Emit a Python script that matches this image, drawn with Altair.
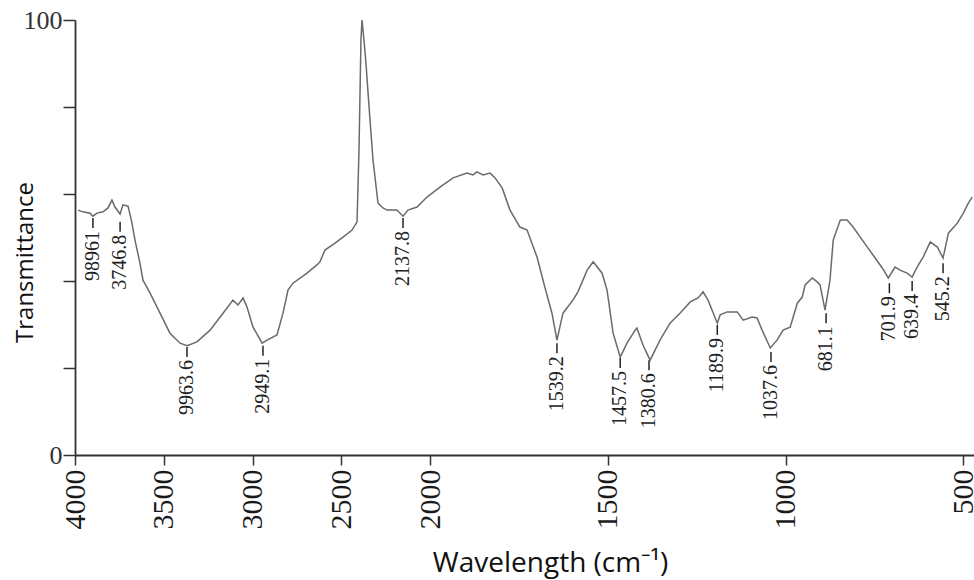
import altair as alt
import pandas as pd

# Spectrum trace (wavenumber, transmittance)
wavenumber = [3983, 3955, 3915, 3899, 3876, 3842, 3814, 3792, 3775, 3746, 3730, 3701,
              3679, 3662, 3634, 3617, 3577, 3521, 3465, 3408, 3369, 3313, 3239, 3166,
              3110, 3082, 3053, 3031, 2997, 2946, 2918, 2862, 2828, 2800, 2772, 2693,
              2637, 2620, 2592, 2535, 2490, 2439, 2411, 2400, 2389, 2383, 2372, 2361,
              2338, 2321, 2310, 2293, 2265, 2242, 2186, 2152, 2124, 2073, 2017, 1972,
              1935, 1896, 1879, 1868, 1851, 1831, 1817, 1797, 1775, 1747, 1727, 1699,
              1677, 1657, 1643, 1626, 1598, 1584, 1558, 1541, 1516, 1502, 1485, 1465,
              1446, 1423, 1418, 1401, 1381, 1353, 1325, 1297, 1268, 1246, 1232, 1218,
              1192, 1184, 1164, 1136, 1119, 1094, 1080, 1066, 1043, 1024, 1007, 987,
              967, 953, 945, 925, 911, 903, 889, 875, 866, 846, 827, 810, 790, 770,
              748, 728, 711, 692, 678, 658, 644, 630, 613, 593, 573, 557, 542, 517,
              500, 486, 475]
transmittance = [56.3, 55.9, 55.6, 54.9, 55.6, 55.9, 56.8, 58.6, 57.0, 55.4, 57.5, 57.2,
                 53.3, 49.4, 44.1, 40.2, 37.2, 32.6, 28.0, 25.7, 25.1, 26.0, 28.7, 32.6,
                 35.6, 34.5, 36.1, 34.0, 29.4, 25.7, 26.4, 27.6, 32.6, 37.9, 39.5, 41.8,
                 43.7, 44.4, 47.1, 48.7, 50.1, 51.7, 53.6, 70.1, 95.4, 100.0, 95.4, 90.1,
                 77.0, 67.8, 63.9, 57.9, 56.8, 56.3, 56.3, 54.9, 56.3, 57.0, 59.3, 61.6,
                 63.7, 64.8, 64.4, 65.1, 64.4, 64.8, 63.7, 61.4, 56.3, 52.4, 51.7, 45.5,
                 38.6, 32.6, 26.4, 32.6, 35.6, 37.5, 42.5, 44.4, 41.8, 37.9, 28.0, 22.5,
                 25.7, 28.7, 29.2, 25.3, 21.8, 26.4, 30.3, 32.6, 35.2, 36.1, 37.5, 35.6,
                 30.3, 32.2, 32.9, 32.9, 31.0, 31.7, 31.5, 28.7, 24.6, 26.4, 28.7, 29.4,
                 34.9, 36.3, 39.1, 40.7, 39.8, 39.1, 33.3, 40.2, 49.4, 54.0, 54.0, 52.4,
                 50.1, 47.8, 45.3, 43.0, 40.7, 43.2, 42.5, 41.8, 40.9, 43.2, 45.5, 49.0,
                 47.8, 45.3, 51.0, 53.3, 55.6, 57.9, 59.3]

# Peak annotations
peak_labels = ["98961", "3746.8", "9963.6", "2949.1", "2137.8", "1539.2", "1457.5",
               "1380.6", "1189.9", "1037.6", "681.1", "701.9", "639.4", "545.2"]
peak_wn = [3899, 3746, 3369, 2941, 2152, 1643, 1465, 1384, 1192, 1041, 886, 708, 644, 557]
peak_t = [54.5, 53.6, 24.8, 25.1, 54.5, 25.7, 22.3, 21.8, 29.9, 23.7, 32.6, 39.5, 40.0, 44.1]

x_ticks = [4000, 3500, 3000, 2500, 2000, 1500, 1000, 500]
y_ticks = [0, 20, 40, 60, 80, 100]

spec = pd.DataFrame({"wn": wavenumber, "t": transmittance})
peaks = pd.DataFrame({"wn": peak_wn, "t": peak_t, "label": peak_labels})

SERIF = "Liberation Serif"

x_scale = alt.Scale(domain=[4000, 2000, 470], range=[0, 355, 899])
y_scale = alt.Scale(domain=[0, 100], nice=False, zero=False)

x_axis = alt.Axis(
    values=x_ticks, format="d", labelAngle=270, labelAlign="right", labelBaseline="middle",
    labelFont=SERIF, labelFontSize=30, labelColor="#1a1a1a",
    labelPadding=4, labelFlush=False, labelOverlap=False,
    tickSize=10, tickWidth=1.5, tickColor="#333",
    domainColor="#333", domainWidth=1.8, grid=False,
    title="Wavelength (cm⁻¹)", titleFont="Open Sans", titleFontSize=28,
    titleFontWeight="normal", titleColor="#111",
    titleX=475, titleY=116, titleAlign="center", titleBaseline="alphabetic",
)
y_axis = alt.Axis(
    values=y_ticks,
    labelExpr="datum.value == 0 || datum.value == 100 ? datum.label : ''",
    labelFont=SERIF, labelFontSize=26, labelColor="#333",
    labelPadding=1, tickSize=12, tickWidth=1.5, tickColor="#333",
    domainColor="#333", domainWidth=1.8, grid=False,
    title="Transmittance", titleFont="Open Sans", titleFontSize=24,
    titleFontWeight="normal", titleColor="#111",
    titleX=-43, titleY=242, titleAngle=270, titleAlign="center",
    titleBaseline="alphabetic",
)

line = alt.Chart(spec).mark_line(color="#6a6a6a", strokeWidth=1.5).encode(
    x=alt.X("wn:Q", scale=x_scale, axis=x_axis),
    y=alt.Y("t:Q", scale=y_scale, axis=y_axis),
    order="wn:Q",
)

ticks = alt.Chart(peaks).mark_rule(color="#222", strokeWidth=1.5, yOffset=0, y2Offset=10).encode(
    x=alt.X("wn:Q", scale=x_scale),
    y=alt.Y("t:Q", scale=y_scale),
    y2="t:Q",
)

labels = alt.Chart(peaks).mark_text(
    angle=270, align="right", baseline="middle", yOffset=13,
    font=SERIF, fontSize=20, color="#222",
).encode(
    x=alt.X("wn:Q", scale=x_scale),
    y=alt.Y("t:Q", scale=y_scale),
    text="label:N",
)

chart = alt.layer(line, ticks, labels).properties(
    width=899, height=435,
    padding={"left": 75, "top": 20, "right": 0, "bottom": 125},
    autosize=alt.AutoSizeParams(type="none"),
    background="white",
).configure_view(stroke=None).configure_axis(
    labelFont=SERIF
).configure_axisX(
    labelFont=SERIF, labelFontSize=30
).configure_axisY(labelFont=SERIF)

chart.save("out.html", embed_options={"renderer": "svg", "actions": False})
